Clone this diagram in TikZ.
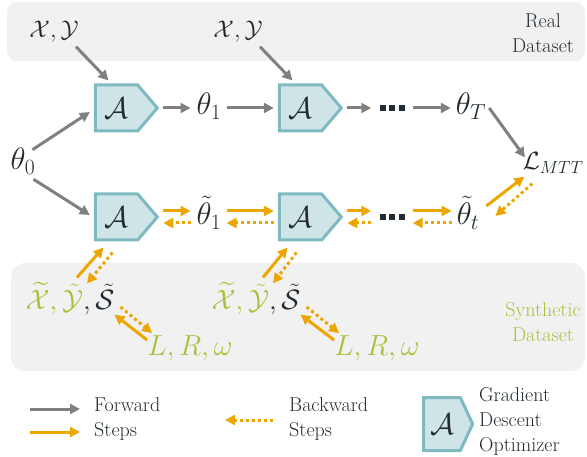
\documentclass[tikz,border=0pt]{standalone}
\usepackage{fix-cm}
\usepackage{amsmath,amssymb}
\usetikzlibrary{arrows.meta,shapes.symbols}
\definecolor{fwdgray}{HTML}{808080}
\definecolor{steporange}{HTML}{EDA600}
\definecolor{synthgreen}{HTML}{A6C23A}
\definecolor{panelgray}{HTML}{F1F1F1}
\definecolor{optfill}{HTML}{CFE4E7}
\definecolor{optdraw}{HTML}{7EBAC0}
\definecolor{ink}{HTML}{222B31}
\begin{document}
\begin{tikzpicture}[x=1pt,y=-1pt,
  every node/.style={text=ink},
  mathlabel/.style={font=\fontsize{24}{26}\selectfont, inner sep=1pt},
  thetalabel/.style={font=\fontsize{31}{33}\selectfont, inner sep=1pt},
  caption/.style={font=\fontsize{20}{25}\selectfont, align=center, inner sep=0pt},
  optimizer/.style={shape=signal, signal to=east, signal pointer angle=99,
    fill=optfill, draw=optdraw, line width=3pt, minimum width=62pt,
    minimum height=46pt, inner sep=0pt, font=\fontsize{30}{32}\selectfont},
  headtip/.style={-{Triangle[length=10pt,width=10pt]}},
  fwd/.style={headtip, line width=3pt, draw=fwdgray},
  fwdsyn/.style={headtip, line width=3pt, draw=steporange},
  bwd/.style={headtip, line width=3pt, draw=steporange, dash pattern=on 3pt off 3pt},
  dotsq/.style={inner sep=0pt},
]
\useasboundingbox (0,0) rectangle (587,457);

% dataset panels
\path[fill=panelgray, rounded corners=10pt] (7,2) rectangle (585,61);
\path[fill=panelgray, rounded corners=14pt] (11,263) rectangle (585,371);
\node[caption] (realtxt) at (543,33) {Real\\Dataset};
\node[caption, text=synthgreen] (syntxt) at (543,322) {Synthetic\\Dataset};

% optimizer blocks (glyph set left of the pointer)
\node[optimizer] (A1) at (116.5,108) {$\mathcal{A}$\hspace{14pt}};
\node[optimizer] (A2) at (300.5,108) {$\mathcal{A}$\hspace{14pt}};
\node[optimizer] (A3) at (116.5,217) {$\mathcal{A}$\hspace{14pt}};
\node[optimizer] (A4) at (300.5,217) {$\mathcal{A}$\hspace{14pt}};

% parameters
\node[thetalabel] (t0) at (23,161) {$\theta_0$};
\node[thetalabel] (t1) at (209,106) {$\theta_1$};
\node[dotsq] (d1) at (392,108) {\rule{6pt}{6pt}\hspace{3.5pt}\rule{6pt}{6pt}\hspace{3.5pt}\rule{6pt}{6pt}};
\node[thetalabel] (tT) at (471,106) {$\theta_T$};
\node[mathlabel, font=\fontsize{25}{27}\selectfont] (L) at (553,163) {$\mathcal{L}_{MTT}$};
\node[thetalabel] (tt1) at (209,213) {$\tilde\theta_1$};
\node[dotsq] (d2) at (392,217) {\rule{6pt}{6pt}\hspace{3.5pt}\rule{6pt}{6pt}\hspace{3.5pt}\rule{6pt}{6pt}};
\node[thetalabel] (ttt) at (468,213) {$\tilde\theta_t$};

% data
\node[mathlabel] (xy1) at (54,32) {$\mathcal{X},\mathcal{Y}$};
\node[mathlabel] (xy2) at (238,32) {$\mathcal{X},\mathcal{Y}$};
\node[mathlabel, font=\fontsize{28}{30}\selectfont] (s1) at (70,299) {$\color{synthgreen}\widetilde{\mathcal{X}},\tilde{\mathcal{Y}}\color{ink},\tilde{\mathcal{S}}$};
\node[mathlabel, font=\fontsize{28}{30}\selectfont] (s2) at (256,299) {$\color{synthgreen}\widetilde{\mathcal{X}},\tilde{\mathcal{Y}}\color{ink},\tilde{\mathcal{S}}$};
\node[mathlabel, font=\fontsize{29}{31}\selectfont, text=synthgreen] (p1) at (190,348) {$L,R,\omega$};
\node[mathlabel, font=\fontsize{29}{31}\selectfont, text=synthgreen] (p2) at (377,348) {$L,R,\omega$};

% real trajectory
\draw[fwd] ([xshift=22pt,yshift=-3pt]xy1.south) -- ([xshift=-8pt,yshift=3pt]A1.north);
\draw[fwd] ([xshift=22pt,yshift=-3pt]xy2.south) -- ([xshift=-8pt,yshift=3pt]A2.north);
\draw[fwd] ([xshift=-4pt,yshift=-3pt]t0.north east) -- ([xshift=-4pt,yshift=-4pt]A1.west);
\draw[fwd] ([xshift=-3pt,yshift=-4pt]t0.south east) -- ([xshift=-4pt,yshift=2pt]A3.west);
\draw[fwd, shorten <=4pt, shorten >=5pt] (A1.east) -- (t1.west |- A1.east);
\draw[fwd, shorten <=4pt, shorten >=4pt] (t1.east |- A2.west) -- (A2.west);
\draw[fwd, shorten <=4pt, shorten >=8pt] (A2.east) -- (d1.west);
\draw[fwd, shorten <=8pt, shorten >=4pt] (d1.east) -- (tT.west |- d1.east);
\draw[fwd] ([xshift=2pt,yshift=-2pt]tT.east) -- ([xshift=-28pt,yshift=-6pt]L.north);

% synthetic trajectory: forward on top, backward (dotted) below
\coordinate (uA3) at ([yshift=6pt]A3.east);
\coordinate (dA3) at ([yshift=-6pt]A3.east);
\coordinate (uA4w) at ([yshift=6pt]A4.west);
\coordinate (dA4w) at ([yshift=-6pt]A4.west);
\coordinate (uA4) at ([yshift=6pt]A4.east);
\coordinate (dA4) at ([yshift=-6pt]A4.east);
\coordinate (ud2w) at ([yshift=6pt]d2.west);
\coordinate (dd2w) at ([yshift=-6pt]d2.west);
\coordinate (ud2e) at ([yshift=6pt]d2.east);
\coordinate (dd2e) at ([yshift=-6pt]d2.east);
\draw[fwdsyn, shorten <=4pt, shorten >=5pt] (uA3) -- (tt1.west |- uA3);
\draw[bwd, shorten <=5pt, shorten >=4pt] (tt1.west |- dA3) -- (dA3);
\draw[fwdsyn, shorten <=4pt, shorten >=4pt] (tt1.east |- uA4w) -- (uA4w);
\draw[bwd, shorten <=4pt, shorten >=4pt] (dA4w) -- (tt1.east |- dA4w);
\draw[fwdsyn, shorten <=4pt, shorten >=8pt] (uA4) -- (ud2w);
\draw[bwd, shorten <=8pt, shorten >=4pt] (dd2w) -- (dA4);
\draw[fwdsyn, shorten <=8pt, shorten >=4pt] (ud2e) -- (ttt.west |- ud2e);
\draw[bwd, shorten <=4pt, shorten >=8pt] (ttt.west |- dd2e) -- (dd2e);
\draw[fwdsyn] ([xshift=6pt,yshift=7pt]ttt.east) -- ([xshift=3pt,yshift=-2pt]L.south west);
\draw[bwd] ([xshift=11pt,yshift=-9pt]L.south west) -- ([xshift=15pt,yshift=-3pt]ttt.east);

% synthetic data links
\draw[fwdsyn] ([xshift=7pt,yshift=4pt]s1.north) -- ([xshift=-13pt,yshift=-6pt]A3.south);
\draw[bwd] ([xshift=-4pt,yshift=-11pt]A3.south) -- ([xshift=17pt,yshift=-2pt]s1.north);
\draw[fwdsyn] ([xshift=1pt,yshift=-6pt]p1.north west) -- ([xshift=-1pt,yshift=2pt]s1.south east);
\draw[bwd] ([xshift=5pt,yshift=-8pt]s1.east) -- ([xshift=6pt,yshift=1pt]p1.north west);
\draw[fwdsyn] ([xshift=7pt,yshift=4pt]s2.north) -- ([xshift=-13pt,yshift=-6pt]A4.south);
\draw[bwd] ([xshift=-4pt,yshift=-11pt]A4.south) -- ([xshift=17pt,yshift=-2pt]s2.north);
\draw[fwdsyn] ([xshift=1pt,yshift=-6pt]p2.north west) -- ([xshift=-1pt,yshift=2pt]s2.south east);
\draw[bwd] ([xshift=5pt,yshift=-8pt]s2.east) -- ([xshift=6pt,yshift=1pt]p2.north west);

% legend
\coordinate (lgfa) at (30,409);
\coordinate (lgfb) at (80,409);
\coordinate (lgsa) at (30,432);
\coordinate (lgsb) at (80,432);
\coordinate (lgba) at (273,420);
\coordinate (lgbb) at (225,420);
\draw[fwd] (lgfa) -- (lgfb);
\draw[fwdsyn] (lgsa) -- (lgsb);
\draw[bwd] (lgba) -- (lgbb);
\node[caption, anchor=west, align=left] (lgftxt) at (94,419) {Forward\\Steps};
\node[caption, anchor=west, align=left] (lgbtxt) at (289,419) {Backward\\Steps};
\node[optimizer, signal pointer angle=130, minimum width=49pt, minimum height=53pt] (Alg) at (442,424) {$\mathcal{A}$\hspace{8pt}};
\node[caption, anchor=west, align=left] (lgotxt) at (479,421) {Gradient\\Descent\\Optimizer};
\end{tikzpicture}
\end{document}
